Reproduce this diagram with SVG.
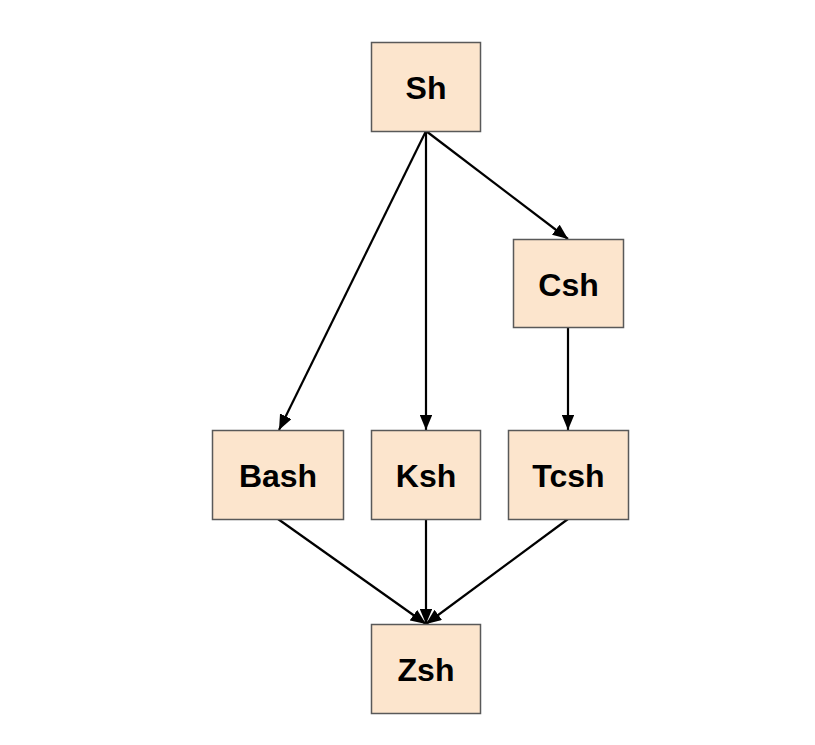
<svg xmlns="http://www.w3.org/2000/svg" width="815" height="745" viewBox="0 0 815 745">
<style>
.node rect{fill:#fce5cd;stroke:#595959;stroke-width:1.5}
.node text{font-family:"Liberation Sans",Arial,sans-serif;font-weight:bold;font-size:32px;fill:#000;text-anchor:middle;dominant-baseline:central}
.edge{stroke:#000;stroke-width:2.2;fill:none;marker-end:url(#arr)}
</style>
<defs>
<marker id="arr" viewBox="0 0 12 10" refX="12" refY="5" markerWidth="7" markerHeight="5.8" orient="auto" markerUnits="strokeWidth">
<path d="M0,0 L12,5 L0,10 Z" fill="#000"/>
</marker>
</defs>
<rect width="815" height="745" fill="#fff"/>
<g id="connectors">
<line class="edge" x1="426" y1="131" x2="279" y2="430"/>
<line class="edge" x1="426" y1="131" x2="426" y2="430"/>
<line class="edge" x1="426" y1="131" x2="568" y2="239"/>
<line class="edge" x1="568" y1="327" x2="568" y2="430"/>
<line class="edge" x1="278" y1="519" x2="426" y2="624"/>
<line class="edge" x1="426" y1="519" x2="426" y2="624"/>
<line class="edge" x1="568" y1="519" x2="426" y2="624"/>
</g>
<g id="Sh" class="node"><rect x="371.5" y="42.5" width="109" height="89"/><text x="426" y="88">Sh</text></g>
<g id="Csh" class="node"><rect x="513.5" y="239.5" width="110" height="88"/><text x="568.5" y="285">Csh</text></g>
<g id="Bash" class="node"><rect x="212.5" y="430.5" width="131" height="89"/><text x="278" y="476">Bash</text></g>
<g id="Ksh" class="node"><rect x="371.5" y="430.5" width="109" height="89"/><text x="426" y="476">Ksh</text></g>
<g id="Tcsh" class="node"><rect x="508.5" y="430.5" width="120" height="89"/><text x="568.5" y="476">Tcsh</text></g>
<g id="Zsh" class="node"><rect x="371.5" y="624.5" width="109" height="89"/><text x="426" y="670">Zsh</text></g>
</svg>
